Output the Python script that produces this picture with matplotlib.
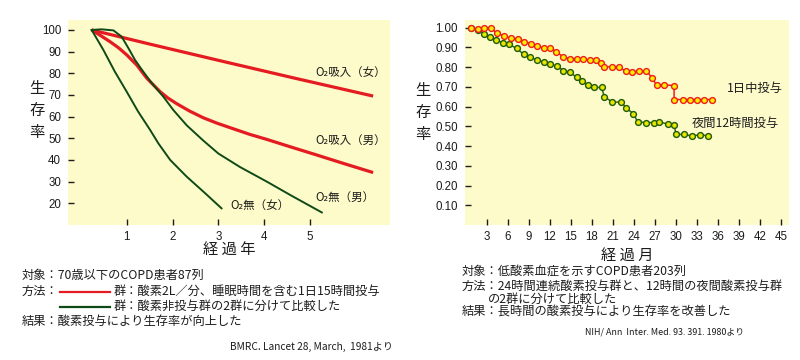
import matplotlib
matplotlib.use("Agg")
import matplotlib.pyplot as plt
from matplotlib.lines import Line2D

plt.rcParams['font.family'] = ['Noto Sans CJK JP', 'DejaVu Sans']

# ---------------- data: left chart (years, survival %) ----------------
o2_female_t = [0.235, 1.5, 3.04, 4.7, 6.38]
o2_female_v = [100, 93.5, 85.8, 77.6, 69.5]

o2_male_t = [0.235, 0.43, 0.635, 0.82, 1.0, 1.22, 1.44, 1.73, 1.9, 2.09, 2.38,
             2.67, 2.97, 3.3, 3.69, 4.06, 4.6, 5.15, 5.75, 6.38]
o2_male_v = [100, 97.4, 94.6, 91.8, 88.5, 83.8, 77.7, 71.5, 68.6, 66.0, 62.5,
             59.5, 57.0, 54.6, 51.8, 49.5, 45.9, 42.3, 38.3, 34.2]

no_male_t = [0.235, 0.45, 0.71, 0.89, 1.04, 1.18, 1.36, 1.55, 1.80, 2.02, 2.31,
             2.67, 3.0, 3.47, 4.06, 4.6, 5.26]
no_male_v = [100, 100.3, 99.8, 96.9, 91.5, 86.2, 80.8, 75.4, 69.2, 63.0, 56.0,
             49.0, 43.0, 36.8, 30.0, 23.5, 15.8]

no_female_t = [0.235, 0.49, 0.74, 1.0, 1.25, 1.51, 1.69, 1.95, 2.31, 2.7, 3.07]
no_female_v = [100, 90.8, 80.8, 71.5, 62.3, 53.9, 47.7, 40.0, 32.3, 24.9, 17.7]

left_yticks = [20, 30, 40, 50, 60, 70, 80, 90, 100]
left_xticks = [1, 2, 3, 4, 5]

# ---------------- data: right chart (months, survival) ----------------
day_m = [0.77, 1.72, 2.67, 3.62, 4.42, 5.52, 6.47, 7.42, 8.37, 9.31, 10.17, 11.22,
         12.07, 12.93, 13.87, 14.87, 15.82, 16.77, 17.67, 18.57, 19.24, 19.71,
         20.9, 21.9, 22.8, 23.76, 24.7, 25.75, 26.6, 27.2, 28.3, 29.7, 29.7,
         30.9, 32.0, 33.0, 34.0, 35.1]
day_v = [1.00, 0.995, 1.00, 1.00, 0.971, 0.959, 0.946, 0.944, 0.929, 0.919, 0.907,
         0.897, 0.898, 0.878, 0.853, 0.843, 0.843, 0.839, 0.834, 0.834, 0.819,
         0.802, 0.802, 0.802, 0.778, 0.777, 0.78, 0.783, 0.743, 0.71, 0.71,
         0.707, 0.636, 0.636, 0.636, 0.636, 0.636, 0.636]

night_m = [0.77, 1.82, 2.67, 3.48, 4.33, 5.28, 6.23, 7.27, 8.27, 9.22, 10.17, 11.12,
           12.02, 12.97, 13.92, 14.92, 15.82, 16.58, 17.39, 18.34, 19.38, 19.76,
           20.9, 22.2, 22.9, 23.9, 24.5, 25.65, 26.8, 27.6, 28.8, 29.7, 29.97,
           31.1, 32.2, 33.4, 34.6]
night_v = [1.00, 0.988, 0.970, 0.951, 0.937, 0.924, 0.915, 0.895, 0.865, 0.849,
           0.836, 0.826, 0.816, 0.805, 0.783, 0.773, 0.748, 0.729, 0.712, 0.697,
           0.697, 0.650, 0.623, 0.623, 0.591, 0.565, 0.523, 0.519, 0.519, 0.523,
           0.511, 0.509, 0.459, 0.459, 0.452, 0.457, 0.452]

right_yticks = [0.1, 0.2, 0.3, 0.4, 0.5, 0.6, 0.7, 0.8, 0.9, 1.0]
right_xticks = [3, 6, 9, 12, 15, 18, 21, 24, 27, 30, 33, 36, 39, 42, 45]

# ---------------- styling ----------------
W, H = 800, 360
BG = '#fdfbc9'
RED = '#e51b22'
GREEN = '#0e4a18'
TXT = '#1c1c1c'
NUMFONT = ['Liberation Sans', 'DejaVu Sans']

fig = plt.figure(figsize=(8, 3.6), dpi=100)
fig.patch.set_facecolor('white')


def fx(x):
    return x / W


def fy(y):
    return 1 - y / H


def style_axes(ax):
    ax.set_facecolor(BG)
    for s in ax.spines.values():
        s.set_visible(False)
    ax.tick_params(axis='both', direction='in', color=TXT, labelcolor=TXT,
                   labelsize=8.3, width=1.0)
    ax.tick_params(axis='y', length=4, pad=5)
    ax.tick_params(axis='x', length=4, pad=4)
    for lab in ax.get_xticklabels() + ax.get_yticklabels():
        lab.set_family(NUMFONT)


# ---------------- left chart ----------------
axL = fig.add_axes([fx(68), fy(225), fx(390) - fx(68), fy(20) - fy(225)])
axL.set_xlim(-0.282, 6.749)
axL.set_ylim(10.0, 104.6)
axL.set_xticks(left_xticks)
axL.set_yticks(left_yticks)
style_axes(axL)

axL.plot(o2_female_t, o2_female_v, color=RED, lw=2.3, solid_capstyle='butt',
         solid_joinstyle='round', zorder=3)
axL.plot(o2_male_t, o2_male_v, color=RED, lw=2.3, solid_capstyle='butt',
         solid_joinstyle='round', zorder=3)
axL.plot(no_male_t, no_male_v, color=GREEN, lw=1.4, solid_joinstyle='round', zorder=4)
axL.plot(no_female_t, no_female_v, color=GREEN, lw=1.4, solid_joinstyle='round', zorder=4)

lab_kw = dict(fontsize=8.3, color=TXT, va='center', ha='left')
axL.text(5.11, 80.6, 'O₂吸入（女）', **lab_kw)
axL.text(5.11, 49.2, 'O₂吸入（男）', **lab_kw)
axL.text(5.11, 22.9, 'O₂無（男）', **lab_kw)
axL.text(3.26, 19.2, 'O₂無（女）', **lab_kw)

fig.text(fx(229), fy(250), '経 過 年', fontsize=11, color=TXT, ha='center', va='center')
for ch, y in zip('生存率', [88, 111, 133]):
    fig.text(fx(37), fy(y), ch, fontsize=11, color=TXT, ha='center', va='center')

# ---------------- right chart ----------------
axR = fig.add_axes([fx(465), fy(225), fx(789) - fx(465), fy(20) - fy(225)])
axR.set_xlim(-0.085, 46.07)
axR.set_ylim(0.0, 1.039)
axR.set_xticks(right_xticks)
axR.set_yticks(right_yticks)
axR.set_yticklabels([f'{v:.2f}' for v in right_yticks])
style_axes(axR)

axR.plot(night_m, night_v, color='#2f6a12', lw=1.1, marker='o', ms=4.2,
         mfc='#e6e600', mec='#1f5a0c', mew=1.0, zorder=3)
axR.plot(day_m, day_v, color='#f01c1c', lw=1.1, marker='o', ms=4.2,
         mfc='#f6f000', mec='#f01c1c', mew=1.0, zorder=4)

rk = dict(fontsize=8.8, color=TXT, va='center', ha='left')
axR.text(37.2, 0.694, '1日中投与', **rk)
axR.text(32.25, 0.516, '夜間12時間投与', **rk)

fig.text(fx(627), fy(255), '経 過 月', fontsize=11, color=TXT, ha='center', va='center')
for ch, y in zip('生存率', [90, 113, 135]):
    fig.text(fx(423), fy(y), ch, fontsize=11, color=TXT, ha='center', va='center')

# ---------------- notes: left ----------------
nk = dict(fontsize=8.8, color=TXT, ha='left', va='center')
fig.text(fx(22), fy(275), '対象：70歳以下のCOPD患者87列', **nk)
fig.text(fx(22), fy(291.5), '方法：', **nk)
fig.add_artist(Line2D([fx(60), fx(110)], [fy(291.5)] * 2, color=RED, lw=1.6))
fig.text(fx(114), fy(291.5), '群：酸素2L／分、睡眠時間を含む1日15時間投与', **nk)
fig.add_artist(Line2D([fx(60), fx(110)], [fy(306.5)] * 2, color=GREEN, lw=1.6))
fig.text(fx(114), fy(306.5), '群：酸素非投与群の2群に分けて比較した', **nk)
fig.text(fx(22), fy(321.5), '結果：酸素投与により生存率が向上した', **nk)
fig.text(fx(230), fy(347), 'BMRC. Lancet 28, March,  1981より', fontsize=7.3,
         color=TXT, ha='left', va='center')

# ---------------- notes: right ----------------
fig.text(fx(462), fy(271.5), '対象：低酸素血症を示すCOPD患者203列', **nk)
fig.text(fx(462), fy(286), '方法：24時間連続酸素投与群と、12時間の夜間酸素投与群', **nk)
fig.text(fx(488), fy(299.5), 'の2群に分けて比較した', **nk)
fig.text(fx(462), fy(312), '結果：長時間の酸素投与により生存率を改善した', **nk)
fig.text(fx(585), fy(332), 'NIH/ Ann  Inter. Med. 93. 391. 1980より', fontsize=6.4,
         color=TXT, ha='left', va='center')

fig.savefig('out.png', dpi=100, facecolor='white')
